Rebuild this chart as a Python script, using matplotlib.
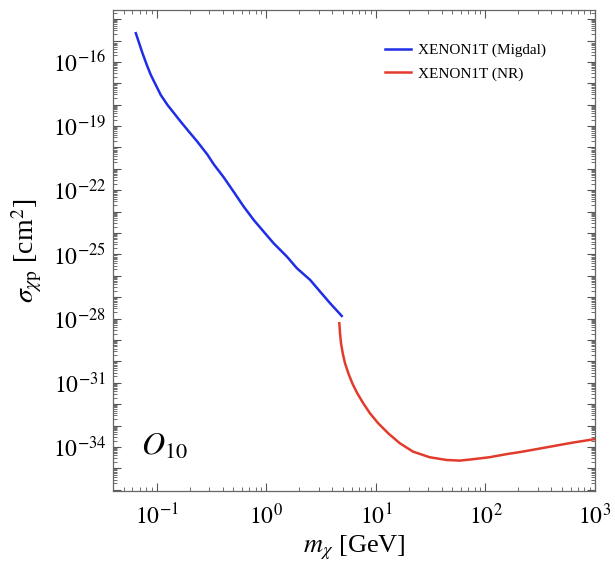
import numpy as np
import matplotlib
matplotlib.use("Agg")
import matplotlib.pyplot as plt
from matplotlib.ticker import LogLocator, FuncFormatter, NullFormatter

plt.rcParams['font.family'] = ['Liberation Serif', 'DejaVu Serif']
plt.rcParams['mathtext.fontset'] = 'stix'

# XENON1T Migdal-effect limit (DM mass in GeV, log10 of cross-section in cm^2)
migdal_mass = [0.0644, 0.0691, 0.0741, 0.0811, 0.0882, 0.0979, 0.1087,
               0.1252, 0.1437, 0.1652, 0.1966, 0.2344, 0.2890, 0.3319,
               0.4091, 0.5044, 0.6218, 0.7667, 0.9451, 1.165, 1.542, 1.901,
               2.512, 3.097, 3.819, 4.877]
migdal_logsigma = [-14.658, -15.126, -15.593, -16.140, -16.608, -17.075,
                   -17.543, -18.010, -18.398, -18.791, -19.259, -19.726,
                   -20.324, -20.792, -21.400, -22.078, -22.765, -23.387,
                   -23.934, -24.476, -25.103, -25.645, -26.192, -26.739,
                   -27.281, -27.875]

# XENON1T nuclear-recoil limit
nr_mass = [4.638, 4.706, 4.806, 4.980, 5.226, 5.601, 6.088, 6.761, 7.665,
           8.822, 10.49, 12.94, 16.53, 21.83, 30.97, 43.93, 58.02, 76.66,
           108.7, 154.2, 218.3, 309.7, 439.3, 621.9, 979.3]
nr_logsigma = [-28.216, -28.684, -29.151, -29.619, -30.086, -30.553,
               -31.021, -31.489, -31.956, -32.424, -32.891, -33.359,
               -33.826, -34.219, -34.481, -34.607, -34.639, -34.574,
               -34.481, -34.340, -34.219, -34.079, -33.939, -33.799,
               -33.640]

series_labels = ['XENON1T (Migdal)', 'XENON1T (NR)']
operator_label = r'$O_{10}$'

fig = plt.figure(figsize=(6.15, 5.64), dpi=100)
ax = fig.add_axes([0.184, 0.1294, 0.7835, 0.853])

ax.plot(migdal_mass, 10.0 ** np.array(migdal_logsigma), color='#1f2ee6',
        lw=1.8, label=series_labels[0])
ax.plot(nr_mass, 10.0 ** np.array(nr_logsigma), color='#e23b2b',
        lw=1.8, label=series_labels[1])

ax.set_xscale('log')
ax.set_yscale('log')
ax.set_xlim(0.04, 1000)
ax.set_ylim(10 ** -36.06, 10 ** -13.57)

ax.xaxis.set_major_locator(LogLocator(base=10, numticks=20))
ax.xaxis.set_minor_locator(LogLocator(base=10, subs=np.arange(2, 10), numticks=20))
ax.xaxis.set_minor_formatter(NullFormatter())
ax.xaxis.set_major_formatter(FuncFormatter(lambda v, p: r'$10^{%d}$' % round(np.log10(v))))

ax.yaxis.set_major_locator(LogLocator(base=10, numticks=40))
ax.yaxis.set_minor_locator(LogLocator(base=10, subs=np.arange(2, 10), numticks=40))
ax.yaxis.set_minor_formatter(NullFormatter())


def ylab(v, p):
    e = int(round(np.log10(v)))
    return r'$10^{%d}$' % e if (e % 3 == 2 and -34 <= e <= -16) else ''


ax.yaxis.set_major_formatter(FuncFormatter(ylab))

for s in ax.spines.values():
    s.set_color('#666666')
    s.set_linewidth(0.9)
ax.tick_params(which='both', direction='in', top=True, right=True,
               colors='#555555', labelcolor='black', labelsize=17)
ax.tick_params(which='major', length=6, width=0.8)
ax.tick_params(which='minor', length=3, width=0.6)
ax.tick_params(axis='x', pad=9)
ax.tick_params(axis='y', pad=5)

ax.set_xlabel(r'$m_\chi$ [GeV]', fontsize=19, labelpad=3)
ax.set_ylabel(r'$\sigma_{\chi \mathrm{p}}$ [cm$^2$]', fontsize=20, labelpad=6)

ax.text(0.057, 0.075, operator_label, transform=ax.transAxes, fontsize=23)

ax.legend(loc='upper right', bbox_to_anchor=(0.912, 0.943), frameon=False,
          fontsize=11, handlelength=1.7, handletextpad=0.5, labelspacing=0.62,
          borderaxespad=0.0)

fig.savefig('out.png', dpi=100)
